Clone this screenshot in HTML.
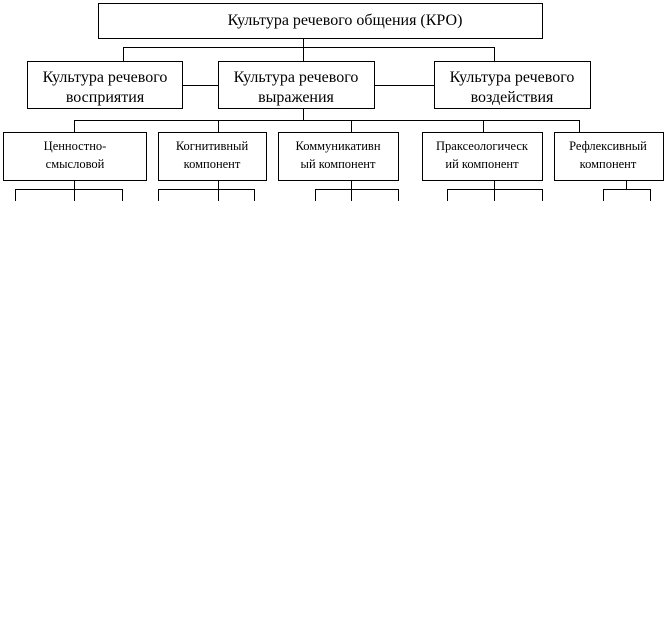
<!DOCTYPE html><html><head><style>body{margin:0;background:#fff}svg{display:block}text{font-family:"Liberation Serif",serif;fill:#000}</style></head><body>
<svg width="666" height="625" xmlns="http://www.w3.org/2000/svg">
<g stroke="#000" stroke-width="1" fill="none" shape-rendering="crispEdges">
<rect x="98.5" y="3.5" width="444" height="35"/>
<path d="M303.5 38v10M123.5 47.5h371M123.5 47v14M303.5 47v14M494.5 47v14"/>
<rect x="27.5" y="61.5" width="155" height="47"/>
<rect x="218.5" y="61.5" width="156" height="47"/>
<rect x="434.5" y="61.5" width="156" height="47"/>
<path d="M182 85.5h36M374 85.5h60M303.5 108v12M74.5 120.5h505M74.5 120v12M218.5 120v12M351.5 120v12M483.5 120v12M579.5 120v12"/>
<rect x="3.5" y="132.5" width="143" height="48"/>
<rect x="158.5" y="132.5" width="108" height="48"/>
<rect x="278.5" y="132.5" width="120" height="48"/>
<rect x="422.5" y="132.5" width="120" height="48"/>
<rect x="554.5" y="132.5" width="109" height="48"/>
<path d="M74.5 180v21M15.5 189.5h107M15.5 189v12M122.5 189v12"/>
<path d="M218.5 180v21M158.5 189.5h96M158.5 189v12M254.5 189v12"/>
<path d="M351.5 180v21M315.5 189.5h83M315.5 189v12M398.5 189v12"/>
<path d="M494.5 180v21M447.5 189.5h95M447.5 189v12M542.5 189v12"/>
<path d="M626.5 180v10M603.5 189.5h47M603.5 189v12M650.5 189v12"/>
</g>
<g font-size="16" text-anchor="middle">
<text x="345" y="25">Культура речевого общения (КРО)</text>
<text x="105" y="82">Культура речевого</text><text x="105" y="102">восприятия</text>
<text x="296" y="82">Культура речевого</text><text x="296" y="102">выражения</text>
<text x="512" y="82">Культура речевого</text><text x="512" y="102">воздействия</text>
</g>
<g font-size="12.5" text-anchor="middle">
<text x="75" y="150">Ценностно-</text><text x="75" y="168">смысловой</text>
<text x="212" y="150">Когнитивный</text><text x="212" y="168">компонент</text>
<text x="338" y="150">Коммуникативн</text><text x="338" y="168">ый компонент</text>
<text x="482" y="150">Праксеологическ</text><text x="482" y="168">ий компонент</text>
<text x="608" y="150">Рефлексивный</text><text x="608" y="168">компонент</text>
</g>
</svg></body></html>
